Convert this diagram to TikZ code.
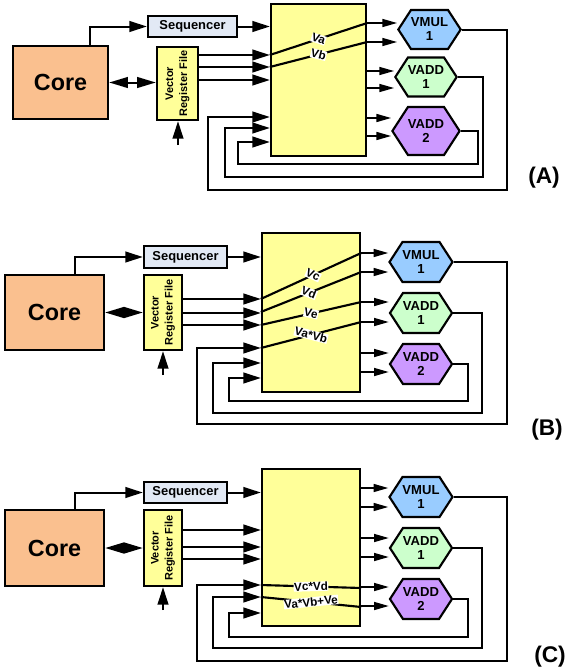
\documentclass[tikz,border=0pt]{standalone}
\usepackage{fontspec}
\setmainfont{Liberation Sans}
\usetikzlibrary{arrows.meta,shapes.symbols}

\definecolor{coreorange}{RGB}{250,192,143}
\definecolor{seqgrey}{RGB}{226,233,245}
\definecolor{regyellow}{RGB}{255,255,153}
\definecolor{mulblue}{RGB}{153,204,255}
\definecolor{addgreen}{RGB}{204,255,204}
\definecolor{addpurple}{RGB}{204,153,255}

\tikzset{every picture/.style={line width=0.75pt},
  blk/.style={draw, line width=1.8pt, inner sep=0pt},
  corebox/.style={blk, fill=coreorange, font=\bfseries\fontsize{17.5}{19}\selectfont},
  seqbox/.style={blk, fill=seqgrey, font=\bfseries\fontsize{9.7}{11}\selectfont},
  vrfbox/.style={blk, fill=regyellow},
  vrftext/.style={rotate=90, align=center, inner sep=0pt, font=\bfseries\fontsize{8.2}{10.5}\selectfont},
  xbar/.style={blk, fill=regyellow},
  funit/.style={draw, line width=1.6pt, signal, signal to=east and west, signal pointer angle=114, inner sep=0pt, align=center, font=\bfseries\fontsize{9.8}{10.5}\selectfont},
  bigarr/.style={line width=1.5pt, -{Triangle[length=13pt,width=8pt]}},
  smallarr/.style={line width=1.1pt, -{Triangle[length=11pt,width=6pt]}},
  dblarr/.style={line width=1.5pt, {Triangle[length=14pt,width=8pt]}-{Triangle[length=14pt,width=8pt]}},
  route/.style={line width=1.6pt},
  vlabel/.style={fill=white, inner sep=0.3pt, sloped, font=\bfseries\fontsize{8.8}{10}\selectfont},
  tag/.style={font=\bfseries\fontsize{17}{20}\selectfont}
}

\begin{document}
\begin{tikzpicture}[x=0.75pt,y=0.75pt,yscale=-1,xscale=1]
\useasboundingbox (0,0) rectangle (566,671);

%%%%%%%% (A)
%Shape: Rectangle [core, sequencer, register file, crossbar]
\node[corebox, minimum width=71.25pt, minimum height=54.75pt] (coreA) at (60.5,82.5) {Core};
\node[seqbox, minimum width=66.75pt, minimum height=15.75pt] (seqA) at (192.5,26.5) {Sequencer};
\node[vrfbox, minimum width=30.75pt, minimum height=54.75pt] (vrfA) at (177.5,83.5) {};
\node[vrftext] (vrfAtxt) at (vrfA) {Vector\\Register File};
\node[xbar, minimum width=71.25pt, minimum height=114pt] (xbarA) at (318.5,80) {};
%Shape: Hexagon [units]
\node[funit, fill=mulblue, minimum width=45.75pt, minimum height=29.25pt] (mulA) at (429.5,29.5) {VMUL\\1};
\node[funit, fill=addgreen, minimum width=45.75pt, minimum height=29.25pt] (addoneA) at (426,77) {VADD\\1};
\node[funit, fill=addpurple, minimum width=45.75pt, minimum height=36pt] (addtwoA) at (426,131) {VADD\\2};
\coordinate (feedA) at (178,145);

%Straight Lines
\draw[bigarr] (coreA.north -| 90,0) |- (seqA.west);
\draw[bigarr] (seqA.east) -- (xbarA.west |- seqA.east);
\draw[dblarr] (coreA.east) -- (vrfA.west |- coreA.east);
\draw[bigarr] (feedA) -- (vrfA.south -| feedA);
\foreach \y in {55,67,80} \draw[bigarr] (vrfA.east |- 0,\y) -- (xbarA.west |- 0,\y);
%Straight Lines [through crossbar]
\draw[route] (xbarA.west |- 0,55) -- node[vlabel] (vaA) {Va} (xbarA.east |- 0,23);
\draw[route] (xbarA.west |- 0,67) -- node[vlabel] (vbA) {Vb} (xbarA.east |- 0,42);
\foreach \y in {23,42} \draw[smallarr] (xbarA.east |- 0,\y) -- (mulA.west |- 0,\y);
\foreach \y in {71,88} \draw[smallarr] (xbarA.east |- 0,\y) -- (addoneA.west |- 0,\y);
\foreach \y in {118,136} \draw[smallarr] (xbarA.east |- 0,\y) -- (addtwoA.west |- 0,\y);
%Feedback
\draw[bigarr] (mulA.east) -| (507,190) -| (208,117) -- (xbarA.west |- 0,117);
\draw[bigarr] (addoneA.east) -| (483,177) -| (225,128) -- (xbarA.west |- 0,128);
\draw[bigarr] (addtwoA.east) -| (478,164) -| (238,142) -- (xbarA.west |- 0,142);
% Text Node
\node[tag] (tagA) at (544,178) {(A)};

%%%%%%%% (B)
%Shape: Rectangle [core, sequencer, register file, crossbar]
\node[corebox, minimum width=74.25pt, minimum height=56.25pt] (coreB) at (54.5,312.5) {Core};
\node[seqbox, minimum width=62.25pt, minimum height=16.5pt] (seqB) at (185.5,257) {Sequencer};
\node[vrfbox, minimum width=28.5pt, minimum height=56.25pt] (vrfB) at (163,312.5) {};
\node[vrftext] (vrfBtxt) at (vrfB) {Vector\\Register File};
\node[xbar, minimum width=73.5pt, minimum height=119.25pt] (xbarB) at (311,312.5) {};
%Shape: Hexagon [units]
\node[funit, fill=mulblue, minimum width=45pt, minimum height=30pt] (mulB) at (421,262) {VMUL\\1};
\node[funit, fill=addgreen, minimum width=45pt, minimum height=30pt] (addoneB) at (421,313) {VADD\\1};
\node[funit, fill=addpurple, minimum width=45pt, minimum height=30pt] (addtwoB) at (421,364) {VADD\\2};
\coordinate (feedB) at (163,375);

%Straight Lines
\draw[bigarr] (coreB.north -| 75,0) |- (seqB.west);
\draw[bigarr] (seqB.east) -- (xbarB.west |- seqB.east);
\draw[dblarr] (coreB.east) -- (vrfB.west |- coreB.east);
\draw[bigarr] (feedB) -- (vrfB.south);
\foreach \y in {299,313,325} \draw[bigarr] (vrfB.east |- 0,\y) -- (xbarB.west |- 0,\y);
%Straight Lines [through crossbar]
\draw[route] (xbarB.west |- 0,299) -- node[vlabel, pos=0.52] (vcB) {Vc} (xbarB.east |- 0,253);
\draw[route] (xbarB.west |- 0,312) -- node[vlabel, pos=0.48] (vdB) {Vd} (xbarB.east |- 0,272);
\draw[route] (xbarB.west |- 0,325) -- node[vlabel] (veB) {Ve} (xbarB.east |- 0,302);
\draw[route] (xbarB.west |- 0,348) -- node[vlabel] (vabB) {Va*Vb} (xbarB.east |- 0,322);
\foreach \y in {253,272} \draw[smallarr] (xbarB.east |- 0,\y) -- (mulB.west |- 0,\y);
\foreach \y in {302,322} \draw[smallarr] (xbarB.east |- 0,\y) -- (addoneB.west |- 0,\y);
\foreach \y in {353,372} \draw[smallarr] (xbarB.east |- 0,\y) -- (addtwoB.west |- 0,\y);
%Feedback
\draw[bigarr] (mulB.east) -| (507,424) -| (197,348) -- (xbarB.west |- 0,348);
\draw[bigarr] (addoneB.east) -| (482,413) -| (213,363) -- (xbarB.west |- 0,363);
\draw[bigarr] (addtwoB.east) -| (468,401) -| (229,378) -- (xbarB.west |- 0,378);
% Text Node
\node[tag] (tagB) at (547,430) {(B)};

%%%%%%%% (C)
%Shape: Rectangle [core, sequencer, register file, crossbar]
\node[corebox, minimum width=74.25pt, minimum height=57pt] (coreC) at (54.5,548) {Core};
\node[seqbox, minimum width=62.25pt, minimum height=15.75pt] (seqC) at (185.5,492.5) {Sequencer};
\node[vrfbox, minimum width=28.5pt, minimum height=57pt] (vrfC) at (163,548) {};
\node[vrftext] (vrfCtxt) at (vrfC) {Vector\\Register File};
\node[xbar, minimum width=73.5pt, minimum height=117.75pt] (xbarC) at (311,547.5) {};
%Shape: Hexagon [units]
\node[funit, fill=mulblue, minimum width=45pt, minimum height=30pt] (mulC) at (421,497) {VMUL\\1};
\node[funit, fill=addgreen, minimum width=45pt, minimum height=30pt] (addoneC) at (421,548) {VADD\\1};
\node[funit, fill=addpurple, minimum width=45pt, minimum height=30pt] (addtwoC) at (421,599) {VADD\\2};
\coordinate (feedC) at (163,610);

%Straight Lines
\draw[bigarr] (coreC.north -| 75,0) |- (seqC.west);
\draw[bigarr] (seqC.east) -- (xbarC.west |- seqC.east);
\draw[dblarr] (coreC.east) -- (vrfC.west |- coreC.east);
\draw[bigarr] (feedC) -- (vrfC.south);
\foreach \y in {530,547,559} \draw[bigarr] (vrfC.east |- 0,\y) -- (xbarC.west |- 0,\y);
%Straight Lines [through crossbar]
\draw[route] (xbarC.west |- 0,585) -- node[vlabel] (vcdC) {Vc*Vd} (xbarC.east |- 0,588);
\draw[route] (xbarC.west |- 0,597) -- node[vlabel] (vabeC) {Va*Vb+Ve} (xbarC.east |- 0,607);
\foreach \y in {488,507} \draw[smallarr] (xbarC.east |- 0,\y) -- (mulC.west |- 0,\y);
\foreach \y in {538,557} \draw[smallarr] (xbarC.east |- 0,\y) -- (addoneC.west |- 0,\y);
\foreach \y in {587,606} \draw[smallarr] (xbarC.east |- 0,\y) -- (addtwoC.west |- 0,\y);
%Feedback
\draw[bigarr] (mulC.east) -| (507,661) -| (197,585) -- (xbarC.west |- 0,585);
\draw[bigarr] (addoneC.east) -| (482,648) -| (213,597) -- (xbarC.west |- 0,597);
\draw[bigarr] (addtwoC.east) -| (468,637) -| (229,613) -- (xbarC.west |- 0,613);
% Text Node
\node[tag] (tagC) at (550,657) {(C)};

\end{tikzpicture}
\end{document}
